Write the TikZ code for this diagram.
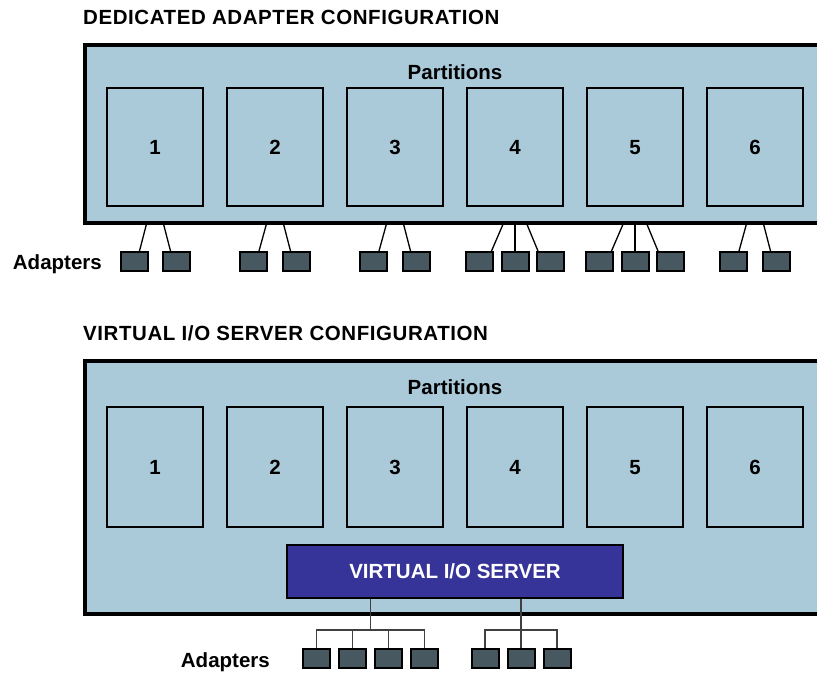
\documentclass[tikz,border=0pt]{standalone}
\usepackage{fontspec}
\setmainfont{Liberation Sans}
\usetikzlibrary{calc}
\definecolor{panel}{RGB}{170,202,218}
\definecolor{adp}{RGB}{72,88,96}
\definecolor{viosblue}{RGB}{54,52,153}
\begin{document}
\begin{tikzpicture}[x=1pt,y=-1pt,
  lbl/.style={font=\bfseries\fontsize{20.5pt}{24pt}\selectfont, inner sep=0pt, text height=14.7pt, text depth=0pt},
  heading/.style={lbl, font=\bfseries\fontsize{20.5pt}{24pt}\selectfont\addfontfeature{LetterSpace=2.8}, anchor=west},
  frame/.style={draw=black, fill=panel, line width=4pt, anchor=north west, inner sep=0pt, minimum width=750pt},
  part/.style={draw=black, line width=2pt, fill=panel, minimum width=96pt, inner sep=0pt,
    font=\bfseries\fontsize{20.5pt}{24pt}\selectfont, text height=14.7pt, text depth=0pt},
  adapter/.style={draw=black, line width=2pt, fill=adp, minimum width=27pt, minimum height=19pt, inner sep=0pt},
  link/.style={line width=1.3pt, draw=black},
  tree/.style={line width=1.1pt, draw=black!75}]
\useasboundingbox (0,0) rectangle (817,673);
\clip (0,0) rectangle (817,673);

% ---------------- Dedicated adapter configuration ----------------
\node[heading] (t1) at (83,17) {DEDICATED ADAPTER CONFIGURATION};
\node[frame, minimum height=178pt] (frame1) at (83,43) {};
\node[lbl] (ptitle1) at (455,72) {Partitions};
\foreach \i in {1,...,6}
  \node[part, minimum height=118pt] (p\i) at ({35+120*\i},147) {\i};

\node[lbl, anchor=east] (adl1) at (102,262) {Adapters};

\node[adapter] (a1a) at (134,261.5) {};
\node[adapter] (a1b) at (176,261.5) {};
\node[adapter] (a2a) at (253.5,261.5) {};
\node[adapter] (a2b) at (296,261.5) {};
\node[adapter] (a3a) at (373.5,261.5) {};
\node[adapter] (a3b) at (416,261.5) {};
\node[adapter] (a4a) at (479.5,261.5) {};
\node[adapter] (a4b) at (515,261.5) {};
\node[adapter] (a4c) at (550,261.5) {};
\node[adapter] (a5a) at (599.5,261.5) {};
\node[adapter] (a5b) at (635,261.5) {};
\node[adapter] (a5c) at (670,261.5) {};
\node[adapter] (a6a) at (733.5,261.5) {};
\node[adapter] (a6b) at (776,261.5) {};

\foreach \g in {1,2,3,6} {
  \draw[link] ($(p\g.south)+(-8,15)$) -- ($(a\g a.north)+(5.5,0)$);
  \draw[link] ($(p\g.south)+(8,15)$) -- ($(a\g b.north)+(-5.5,0)$);
}
\foreach \g in {4,5} {
  \draw[link] ($(p\g.south)+(-11,15)$) -- ($(a\g a.north)+(12,0)$);
  \draw[link] ($(p\g.south)+(0,15)$) -- (a\g b.north);
  \draw[link] ($(p\g.south)+(11,15)$) -- ($(a\g c.north)+(-12,0)$);
}

% ---------------- Virtual I/O server configuration ----------------
\node[heading] (t2) at (83,333) {VIRTUAL I/O SERVER CONFIGURATION};
\node[frame, minimum height=253pt] (frame2) at (83,359) {};
\node[lbl] (ptitle2) at (455,387) {Partitions};
\foreach \i in {1,...,6}
  \node[part, minimum height=120pt] (q\i) at ({35+120*\i},467) {\i};

\node[draw=black, line width=2.5pt, fill=viosblue, text=white, minimum width=336pt, minimum height=53pt,
  inner sep=0pt, font=\bfseries\fontsize{20.5pt}{24pt}\selectfont, text height=14.7pt, text depth=0pt]
  (vios) at (455,571.5) {VIRTUAL I/O SERVER};

\node[lbl, anchor=east] (adl2) at (270,660) {Adapters};

\node[adapter] (b1) at (316.5,658) {};
\node[adapter] (b2) at (352.5,658) {};
\node[adapter] (b3) at (388.5,658) {};
\node[adapter] (b4) at (424.5,658) {};
\node[adapter] (c1) at (485,658) {};
\node[adapter] (c2) at (521,658) {};
\node[adapter] (c3) at (557,658) {};

\coordinate (busL) at (370.5,630);
\coordinate (busR) at (521,630);
\draw[tree] (vios.south -| busL) -- (busL);
\draw[tree] (vios.south -| busR) -- (busR);
\foreach \n in {b1,b2,b3,b4}
  \draw[tree] (busL) -| (\n.north);
\foreach \n in {c1,c2,c3}
  \draw[tree] (busR) -| (\n.north);
\end{tikzpicture}
\end{document}
